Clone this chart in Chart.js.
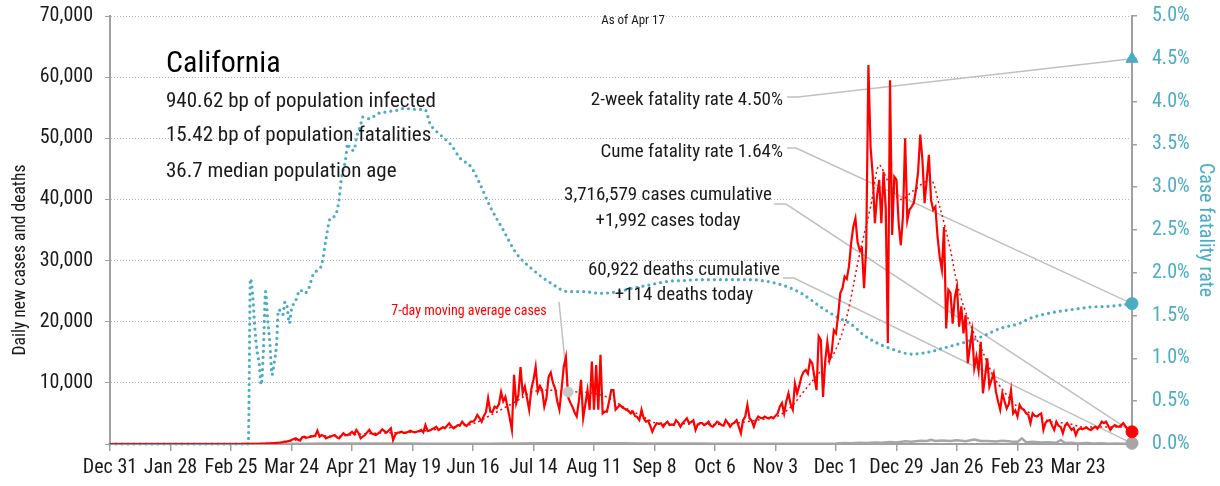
<!DOCTYPE html>
<html>
<head>
<meta charset="utf-8">
<script src="https://cdn.jsdelivr.net/npm/chart.js@4.4.1/dist/chart.umd.min.js"></script>
<style>
  html, body { margin: 0; padding: 0; background: #fff; }
  canvas { display: block; }
</style>
</head>
<body>
<canvas id="chart" width="1220" height="486"></canvas>
<script>
// x axis: day index counted from Dec 31 2019, one tick label every 28 days
const xTickLabels = ['Dec 31', 'Jan 28', 'Feb 25', 'Mar 24', 'Apr 21', 'May 19', 'Jun 16', 'Jul 14',
    'Aug 11', 'Sep 8', 'Oct 6', 'Nov 3', 'Dec 1', 'Dec 29', 'Jan 26', 'Feb 23', 'Mar 23'];
const tickStep = 28;

// daily new cases, one value per day starting Dec 31 2019 (rows of 10 days)
const dailyCases = [
    0, 0, 0, 0, 0, 0, 0, 0, 0, 0,
    0, 0, 0, 0, 0, 0, 0, 0, 0, 0,
    0, 0, 0, 0, 0, 0, 0, 0, 0, 0,
    0, 0, 0, 0, 0, 0, 0, 0, 0, 0,
    0, 0, 0, 0, 0, 0, 0, 0, 0, 0,
    0, 0, 0, 0, 0, 0, 0, 0, 0, 0,
    2, 3, 5, 8, 10, 15, 20, 25, 30, 40,                                     // 60
    50, 60, 70, 90, 100, 120, 150, 180, 200, 250,
    300, 380, 420, 500, 650, 800, 930, 700, 540, 1100,
    1200, 1030, 1100, 1300, 1250, 1400, 2180, 1200, 1470, 1300,
    930, 1100, 1200, 1350, 1470, 1100, 930, 1300, 1750, 1500,               // 100
    1470, 1700, 2000, 1600, 2300, 1800, 930, 1200, 1470, 1900,
    2300, 1750, 1600, 1470, 1700, 2000, 2400, 2100, 1850, 2200,
    2570, 650, 1500, 1850, 1900, 2000, 1800, 1850, 2000, 2180,
    2000, 1900, 2000, 2100, 2300, 1900, 3100, 2130, 2200, 2400,
    2600, 2830, 2300, 2500, 2730, 2600, 3000, 3400, 2900, 2570,             // 150
    2800, 3100, 3100, 3650, 3200, 2950, 3300, 3650, 3650, 4000,
    4750, 4250, 3650, 4600, 5200, 7500, 5300, 5200, 6100, 5900,
    6500, 8500, 7000, 7700, 6000, 4250, 2300, 11300, 6700, 8000,
    12600, 8300, 9400, 7500, 5600, 9000, 10500, 12600, 8600, 9500,
    8800, 6100, 7500, 11000, 11700, 10000, 9100, 7000, 5600, 9000,          // 200
    12600, 14200, 7700, 6800, 6100, 5200, 4500, 7000, 10500, 4250,
    6500, 8800, 5600, 13500, 5600, 12900, 5600, 14600, 5000, 5300,
    5300, 7000, 8800, 8800, 5600, 6000, 6400, 6000, 5800, 5600,
    5400, 5000, 5300, 4600, 4400, 3900, 5600, 4200, 3650, 3800,
    3000, 2000, 2800, 3400, 3300, 3400, 2830, 3300, 3650, 3100,             // 250
    3200, 3100, 3900, 3500, 2830, 3400, 3800, 4200, 3400, 3600,
    3900, 2300, 3200, 3400, 3400, 3100, 3300, 3650, 3000, 2830,
    3200, 3650, 3400, 3100, 3000, 3900, 3400, 2830, 3300, 3500,
    3900, 2830, 1750, 3900, 4500, 6400, 4200, 3800, 2830, 3900,
    4500, 4300, 4200, 4500, 4300, 4200, 4400, 4200, 4600, 5000,             // 300
    6100, 6700, 5000, 7000, 8300, 6500, 5600, 9900, 8300, 9500,
    11000, 11800, 12100, 11500, 13700, 13200, 11000, 8800, 17600, 17000,
    7700, 13500, 16700, 13700, 15000, 18600, 18100, 21000, 24700, 25500,
    27400, 27000, 29000, 32800, 35500, 36900, 33000, 31700, 32000, 25500,
    32300, 62000, 48600, 44000, 36100, 40500, 43200, 36100, 44500, 38800,   // 350
    16500, 59500, 34200, 43700, 43200, 36100, 32500, 37200, 50000, 36600,
    38300, 38800, 39400, 41500, 44500, 50600, 46500, 39400, 43200, 47300,
    39900, 38300, 38800, 33900, 30600, 28500, 35500, 18900, 25200, 24700,
    19700, 24000, 25700, 19200, 22500, 18100, 21100, 13200, 16000, 18400,
    12400, 14300, 12000, 16700, 8300, 11000, 14000, 9400, 10500, 11600,     // 400
    8600, 7000, 5600, 8300, 7000, 5800, 6500, 8800, 5000, 5500,
    4500, 6400, 5800, 5600, 5000, 4800, 3400, 5000, 4600, 4500,
    4800, 5000, 2300, 3500, 3800, 3900, 3000, 2300, 3650, 3000,
    2800, 1750, 3000, 3400, 2900, 2300, 2600, 1470, 2300, 2570,
    2400, 2570, 2700, 2400, 2300, 2600, 2830, 2500, 3000, 3650,             // 450
    3400, 3650, 3000, 2300, 2800, 3100, 2900, 2800, 3100, 3400,
    2900, 2300, 2600, 1992
];

// 7-day moving average of cases, read at these days
const maDays = [0, 63, 70, 77, 84, 91, 98, 105, 112, 119, 126, 133, 140, 147, 154, 161, 168, 175, 182, 189,
    196, 203, 210, 217, 224, 231, 238, 245, 252, 259, 266, 273, 280, 287, 294, 301, 308, 315, 322, 329,
    336, 341, 347, 352, 356, 360, 366, 372, 380, 384, 389, 392, 398, 404, 409, 414, 420, 425, 430, 436,
    443, 450, 458, 466, 473];
const maValues = [0, 10, 50, 160, 520, 1000, 1350, 1250, 1500, 1700, 1800, 1850, 1950, 2200, 2500, 2900, 3300, 4500, 5800, 7200,
    8600, 8800, 8600, 8500, 8300, 7500, 6000, 4800, 3500, 3200, 3300, 3200, 3200, 3300, 3600, 4000, 4400, 6000, 9000, 12000,
    15500, 20800, 31200, 38800, 45600, 43000, 40000, 41500, 43200, 38800, 31700, 26300, 19700, 15000, 11000, 8500, 6100, 5200, 4500, 3600,
    3400, 2800, 2800, 2800, 2700];
const maNoteDay = 212;
const maNoteValue = 8500;

// daily deaths (grey line near zero)
const deathDays = [0, 70, 77, 84, 91, 98, 105, 112, 119, 126, 133, 140, 147, 154, 161, 168, 175, 182, 189, 196,
    203, 210, 217, 224, 231, 238, 245, 252, 259, 266, 273, 280, 287, 294, 301, 308, 315, 322, 329, 336,
    340, 343, 347, 350, 354, 357, 361, 364, 368, 371, 375, 378, 380, 382, 385, 389, 392, 396, 400, 403,
    406, 410, 413, 417, 420, 422, 424, 427, 431, 434, 438, 440, 442, 445, 448, 452, 455, 459, 462, 466,
    469, 473];
const deathValues = [0, 5, 20, 50, 60, 80, 85, 80, 70, 70, 70, 70, 60, 60, 60, 50, 60, 80, 100, 110,
    120, 130, 140, 130, 130, 110, 100, 90, 80, 80, 70, 60, 50, 50, 40, 40, 40, 50, 60, 90,
    150, 120, 200, 160, 250, 200, 330, 250, 450, 380, 550, 480, 700, 500, 560, 480, 600, 450, 750, 480,
    500, 420, 520, 400, 350, 930, 300, 350, 250, 300, 200, 650, 150, 200, 100, 150, 80, 120, 60, 90,
    50, 114];

// case fatality rate (%), right axis
const cfrDays = [0, 63, 64, 65, 66, 67, 68, 69, 70, 71, 72, 73, 74, 75, 76, 77, 78, 79, 80, 81,
    82, 83, 84, 86, 88, 90, 92, 94, 96, 98, 100, 102, 104, 106, 107, 109, 110, 111, 113, 114,
    116, 117, 120, 124, 128, 133, 136, 141, 146, 148, 153, 158, 162, 167, 171, 176, 182, 188, 196, 204,
    212, 219, 227, 235, 242, 250, 258, 266, 273, 281, 289, 296, 304, 312, 320, 329, 336, 343, 349, 355,
    363, 371, 380, 387, 393, 403, 412, 421, 426, 435, 445, 454, 463, 473];
const cfrValues = [0, 0, 0, 1.93, 1.75, 1.37, 1.10, 0.95, 0.69, 1.10, 1.78, 1.45, 1.18, 0.81, 0.95, 1.14, 1.57, 1.55, 1.51, 1.66,
    1.60, 1.41, 1.57, 1.68, 1.80, 1.76, 1.82, 1.98, 2.03, 2.10, 2.40, 2.64, 2.66, 2.85, 3.08, 3.32, 3.51, 3.45, 3.43, 3.57,
    3.73, 3.82, 3.80, 3.86, 3.88, 3.90, 3.92, 3.91, 3.90, 3.75, 3.61, 3.49, 3.34, 3.24, 3.05, 2.77, 2.50, 2.23, 2.03, 1.88,
    1.78, 1.78, 1.76, 1.78, 1.82, 1.86, 1.90, 1.91, 1.92, 1.92, 1.92, 1.92, 1.90, 1.85, 1.76, 1.60, 1.49, 1.40, 1.27, 1.18,
    1.10, 1.05, 1.08, 1.13, 1.17, 1.25, 1.35, 1.41, 1.47, 1.53, 1.57, 1.60, 1.61, 1.64];
const twoWeekRate = 4.5;

const colors = {
    red: '#ff0000',
    teal: '#4bacc6',
    grey: '#a6a6a6',
    leader: '#c0c0c0',
    axis: '#a0a0a0',
    text: '#1a1a1a'
};

// pick a narrow face if one is installed
function pickFont(candidates, fallback) {
    const c = document.createElement('canvas').getContext('2d');
    const s = 'abcdefghijklmnopqrstuvwxyz0123456789';
    c.font = '40px monospace';
    const base = c.measureText(s).width;
    for (const f of candidates) {
        c.font = `40px "${f}", monospace`;
        if (Math.abs(c.measureText(s).width - base) > 1) return f;
    }
    return fallback;
}
const face = pickFont(['Liberation Sans Narrow', 'Roboto Condensed', 'DejaVu Sans Condensed', 'Open Sans Condensed'], 'Liberation Sans');
const FONT = `"${face}", "Liberation Sans", sans-serif`;

Chart.defaults.font.family = FONT;
Chart.defaults.color = colors.text;

const pairs = (days, vals) => days.map((d, i) => ({ x: d, y: vals[i] }));
const lastDay = dailyCases.length - 1;

// keep the plot top where the reference has it; tick labels may overhang
const noVerticalPadding = (scale) => { scale.paddingTop = 0; scale.paddingBottom = 0; };

const notes = {
    id: 'notes',
    beforeDatasetsDraw(chart) {
        const { ctx, scales: { x, y, y2 } } = chart;
        const xe = x.getPixelForValue(lastDay);
        ctx.save();
        ctx.strokeStyle = colors.leader;
        ctx.lineWidth = 1.5;
        const leader = (pts) => {
            ctx.beginPath();
            ctx.moveTo(pts[0][0], pts[0][1]);
            pts.slice(1).forEach((p) => ctx.lineTo(p[0], p[1]));
            ctx.stroke();
        };
        leader([[787, 97], [798, 97], [xe, y2.getPixelForValue(twoWeekRate)]]);
        leader([[787, 148], [796, 148], [xe, y2.getPixelForValue(cfrValues[cfrValues.length - 1])]]);
        leader([[774, 204], [786, 204], [xe, y.getPixelForValue(dailyCases[lastDay])]]);
        leader([[783, 278], [794, 278], [xe, y.getPixelForValue(deathValues[deathValues.length - 1])]]);
        leader([[559, 302], [x.getPixelForValue(maNoteDay), y.getPixelForValue(maNoteValue)]]);
        ctx.restore();
    },
    afterDatasetsDraw(chart) {
        const ctx = chart.ctx;
        ctx.save();
        ctx.textBaseline = 'alphabetic';
        const txt = (s, px, py, size, color, align) => {
            ctx.font = `${size}px ${FONT}`;
            ctx.fillStyle = color;
            ctx.textAlign = align;
            ctx.fillText(s, px, py);
        };
        txt('California', 166, 72, 30, '#000', 'left');
        txt('940.62 bp of population infected', 166, 107, 21, colors.text, 'left');
        txt('15.42 bp of population fatalities', 166, 141, 21, colors.text, 'left');
        txt('36.7 median population age', 166, 177, 21, colors.text, 'left');
        txt('As of Apr 17', 633, 24, 13, colors.text, 'center');
        txt('2-week fatality rate 4.50%', 783, 105, 19, colors.text, 'right');
        txt('Cume fatality rate 1.64%', 783, 157, 19, colors.text, 'right');
        txt('3,716,579 cases cumulative', 668, 200, 19, colors.text, 'center');
        txt('+1,992 cases today', 668, 226, 19, colors.text, 'center');
        txt('60,922 deaths cumulative', 684, 275, 19, colors.text, 'center');
        txt('+114 deaths today', 684, 300, 19, colors.text, 'center');
        txt('7-day moving average cases', 469, 315, 14, colors.red, 'center');

        // left axis title
        ctx.translate(21, 260);
        ctx.rotate(-Math.PI / 2);
        ctx.textBaseline = 'middle';
        txt('Daily new cases and deaths', 0, 0, 17.5, colors.text, 'center');
        ctx.restore();
    }
};

new Chart(document.getElementById('chart'), {
    type: 'line',
    data: {
        datasets: [
            {   // end markers
                data: [{ x: lastDay, y: twoWeekRate }], yAxisID: 'y2', pointStyle: 'triangle', pointRadius: 7,
                backgroundColor: colors.teal, borderColor: colors.teal, showLine: false, clip: false
            },
            {
                data: [{ x: lastDay, y: cfrValues[cfrValues.length - 1] }], yAxisID: 'y2', pointRadius: 6,
                backgroundColor: colors.teal, borderColor: colors.teal, showLine: false, clip: false
            },
            {
                data: [{ x: lastDay, y: dailyCases[lastDay] }], yAxisID: 'y', pointRadius: 6,
                backgroundColor: colors.red, borderColor: colors.red, showLine: false, clip: false
            },
            {
                data: [{ x: lastDay, y: deathValues[deathValues.length - 1] }], yAxisID: 'y', pointRadius: 6,
                backgroundColor: colors.grey, borderColor: colors.grey, showLine: false, clip: false
            },
            {
                data: [{ x: maNoteDay, y: maNoteValue }], yAxisID: 'y', pointRadius: 5,
                backgroundColor: '#c8c8c8', borderColor: '#c8c8c8', showLine: false, clip: false
            },
            {
                label: 'Cases',
                data: dailyCases.map((v, i) => ({ x: i, y: v })),
                yAxisID: 'y', borderColor: colors.red, borderWidth: 2.2, pointRadius: 0, tension: 0
            },
            {
                label: '7-day moving average cases',
                data: pairs(maDays, maValues),
                yAxisID: 'y', borderColor: colors.red, borderWidth: 1.5, borderDash: [2, 3],
                pointRadius: 0, cubicInterpolationMode: 'monotone'
            },
            {
                label: 'Case fatality rate',
                data: pairs(cfrDays, cfrValues),
                yAxisID: 'y2', borderColor: colors.teal, borderWidth: 3.2, borderDash: [0, 6],
                borderCapStyle: 'round', pointRadius: 0, cubicInterpolationMode: 'monotone', clip: false
            },
            {
                label: 'Deaths',
                data: pairs(deathDays, deathValues),
                yAxisID: 'y', borderColor: colors.grey, borderWidth: 2.5, pointRadius: 0, tension: 0
            }
        ]
    },
    options: {
        responsive: false,
        devicePixelRatio: 1,
        animation: false,
        events: [],
        layout: { padding: { top: 16, left: 0, right: 0, bottom: 0 } },
        plugins: { legend: { display: false }, tooltip: { enabled: false } },
        scales: {
            x: {
                type: 'linear',
                min: 0,
                max: lastDay,
                afterBuildTicks: (scale) => {
                    scale.ticks = xTickLabels.map((_, i) => ({ value: i * tickStep }));
                },
                afterFit: (scale) => { scale.height = 42; },
                ticks: {
                    autoSkip: false, maxRotation: 0, padding: 5,
                    font: { size: 20 }, color: colors.text,
                    callback: (v) => xTickLabels[Math.round(v / tickStep)] || ''
                },
                grid: { drawOnChartArea: false, tickLength: 7, color: colors.axis, lineWidth: 1.5 },
                border: { color: colors.axis, width: 2 }
            },
            y: {
                position: 'left',
                min: 0,
                max: 70000,
                afterFit: (scale) => { scale.width = 110; noVerticalPadding(scale); },
                ticks: {
                    stepSize: 10000, padding: 12, font: { size: 20 }, color: colors.text,
                    callback: (v) => v === 0 ? '' : v.toLocaleString('en-US')
                },
                grid: { color: '#b5b5b5', lineWidth: 1, tickLength: 5, tickColor: colors.axis, tickBorderDash: [] },
                border: { color: colors.axis, width: 2, dash: [1, 2] }
            },
            y2: {
                position: 'right',
                min: 0,
                max: 5,
                afterFit: (scale) => { scale.width = 88; noVerticalPadding(scale); },
                ticks: {
                    stepSize: 0.5, padding: 15, font: { size: 20 }, color: colors.teal,
                    callback: (v) => v.toFixed(1) + '%'
                },
                grid: { drawOnChartArea: false, tickLength: 5, color: colors.axis, lineWidth: 1.5 },
                border: { color: colors.axis, width: 2 },
                title: {
                    display: true, text: 'Case fatality rate', font: { size: 20 },
                    color: colors.teal, padding: { top: 3, bottom: 0 }
                }
            }
        }
    },
    plugins: [notes]
});
</script>
</body>
</html>
